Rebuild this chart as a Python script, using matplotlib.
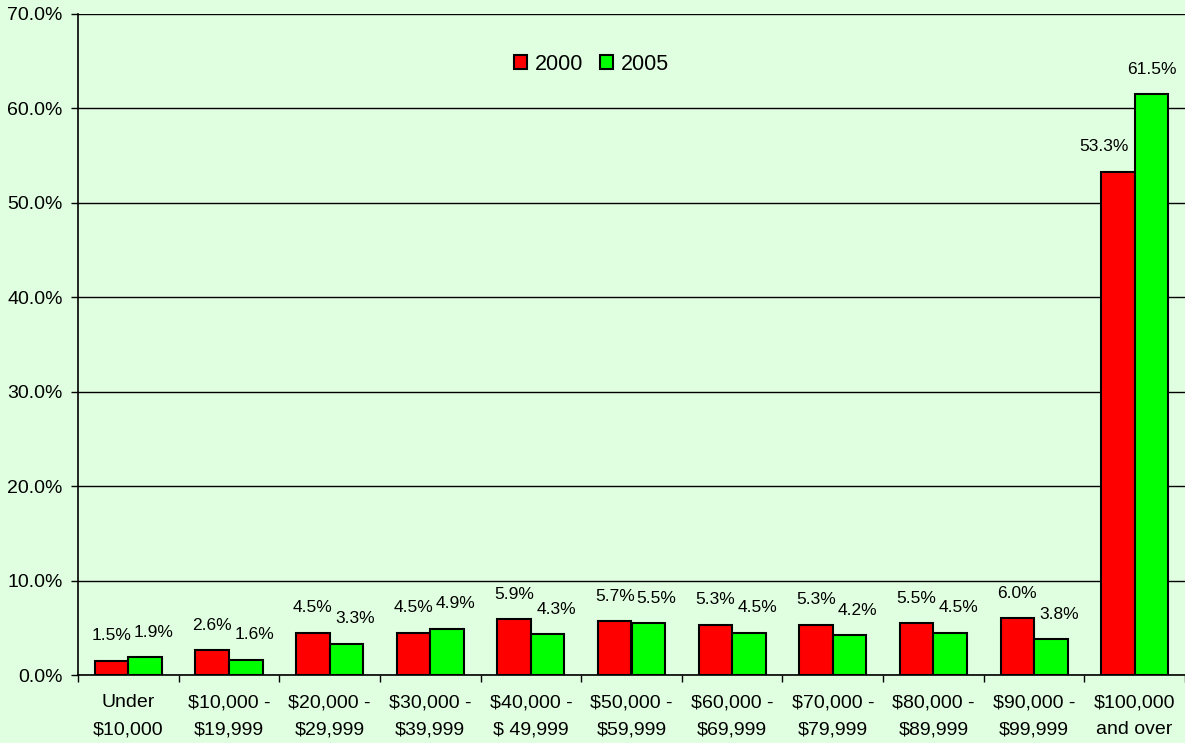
import numpy as np
import matplotlib.pyplot as plt
from matplotlib.ticker import FuncFormatter

categories = ['Under\n$10,000', '$10,000 -\n$19,999', '$20,000 -\n$29,999',
              '$30,000 -\n$39,999', '$40,000 -\n$ 49,999', '$50,000 -\n$59,999',
              '$60,000 -\n$69,999', '$70,000 -\n$79,999', '$80,000 -\n$89,999',
              '$90,000 -\n$99,999', '$100,000\nand over']
pct_2000 = [1.5, 2.6, 4.5, 4.5, 5.9, 5.7, 5.3, 5.3, 5.5, 6.0, 53.3]
pct_2005 = [1.9, 1.6, 3.3, 4.9, 4.3, 5.5, 4.5, 4.2, 4.5, 3.8, 61.5]
series_names = ['2000', '2005']

bg = '#E0FFE0'
plt.rcParams['font.family'] = ['Liberation Sans', 'DejaVu Sans']

fig = plt.figure(figsize=(11.85, 7.43), dpi=100, facecolor=bg)
ax = fig.add_axes([78/1185, 1 - 675/743, 1 - 78/1185, (675 - 14)/743])
ax.set_facecolor(bg)

x = np.arange(len(categories))
w = 1/3
b1 = ax.bar(x - w/2, pct_2000, w, color='#FF0000', edgecolor='black', linewidth=1.5,
            label=series_names[0], zorder=3)
b2 = ax.bar(x + w/2, pct_2005, w, color='#00FF00', edgecolor='black', linewidth=1.5,
            label=series_names[1], zorder=3)

# labels above bars, nudged sideways the way Excel does to keep them apart
for r1, r2, v1, v2 in zip(b1, b2, pct_2000, pct_2005):
    if v2 > v1 + 3:
        dx1, dx2 = -10, 0
    else:
        dx1, dx2 = 0, 6
    for r, v, dx in ((r1, v1, dx1), (r2, v2, dx2)):
        ax.annotate(f'{v:.1f}%', (r.get_x() + r.get_width()/2, v),
                    xytext=(dx, 18), textcoords='offset points',
                    ha='center', va='center', fontsize=12.5)

ax.set_xlim(-0.5, len(categories) - 0.5)
ax.set_ylim(0, 70)
ax.set_yticks(np.arange(0, 71, 10))
ax.yaxis.set_major_formatter(FuncFormatter(lambda v, p: f'{v:.1f}%'))
ax.yaxis.grid(True, color='black', linewidth=1, zorder=0)

ax.set_xticks(np.arange(-0.5, len(categories), 1))
ax.set_xticklabels([])
ax.set_xticks(x, minor=True)
ax.set_xticklabels(categories, minor=True, linespacing=1.75)
ax.tick_params(axis='x', which='minor', length=0, pad=14, labelsize=14)
ax.tick_params(axis='x', which='major', length=5, width=1, direction='out')
ax.tick_params(axis='y', length=5, width=1, direction='out', labelsize=14, pad=6)

for s in ('top', 'right'):
    ax.spines[s].set_visible(False)
for s in ('left', 'bottom'):
    ax.spines[s].set_linewidth(1.2)

ax.legend(loc='center', bbox_to_anchor=(0.464, 0.924), ncol=2, frameon=False,
          fontsize=15.5, handlelength=0.6, handleheight=0.6, handletextpad=0.35,
          columnspacing=0.8)

fig.savefig('out.png', dpi=100, facecolor=bg)
